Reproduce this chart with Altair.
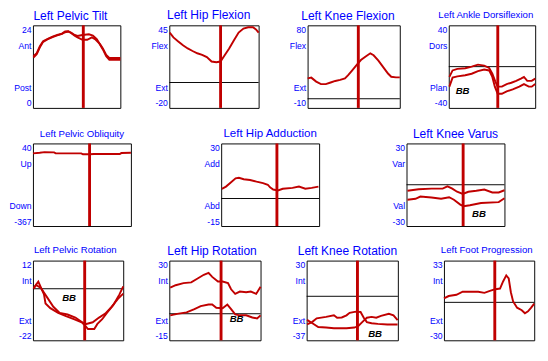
import altair as alt
import pandas as pd

RED = "#C00000"
BLUE = "#0000FF"
FONT = "Liberation Sans"

# ---------------- panel definitions ----------------
titles = ["Left Pelvic Tilt", "Left Hip Flexion", "Left Knee Flexion", "Left Ankle Dorsiflexion",
          "Left Pelvic Obliquity", "Left Hip Adduction", "Left Knee Varus",
          "Left Pelvic Rotation", "Left Hip Rotation", "Left Knee Rotation", "Left Foot Progression"]
y_min = [0, -20, -10, -40, -367, -15, -30, -22, -15, -37, -30]
y_max = [24, 45, 80, 40, 40, 30, 30, 12, 30, 30, 33]
low_labels = ["Post", "Ext", "Ext", "Plan", "Down", "Abd", "Val", "Ext", "Ext", "Ext", "Ext"]
high_labels = ["Ant", "Flex", "Flex", "Dors", "Up", "Add", "Var", "Int", "Int", "Int", "Int"]
toe_off = [57.6, 57.4, 55.0, 56.7, 57.8, 56.9, 57.8, 57.3, 56.7, 55.7, 56.3]
show_zero = [False, True, True, True, False, True, True, True, True, True, True]

# ---------------- curves (% gait cycle, degrees) ----------------
tilt_a_pct = [0.5, 4.3, 7.9, 11.6, 17, 22.4, 27.8, 33.2, 36.8, 40.4, 44, 47.7, 51, 56.7, 64, 68.6, 73, 76.5, 80, 83.8, 87.4, 100]
tilt_a_val = [15.0, 15.9, 17.9, 19.4, 20.1, 20.7, 21.2, 21.6, 22.2, 22.3, 21.8, 21.2, 20.9, 21.2, 21.4, 21.0, 20.0, 18.6, 17.3, 15.4, 14.5, 14.5]
tilt_b_pct = [0.5, 4.3, 7.9, 11.6, 17, 22.4, 27.8, 33.2, 36.8, 40.4, 44, 47.7, 51, 56.7, 62, 67.5, 71, 75.8, 80, 83.8, 87.4, 100]
tilt_b_val = [14.6, 15.6, 17.6, 19.2, 20.0, 20.6, 21.1, 21.5, 22.0, 22.2, 21.7, 21.0, 20.5, 19.8, 19.8, 20.5, 20.0, 18.8, 17.0, 15.0, 14.0, 14.0]

hipflex_pct = [0.4, 4.6, 10, 15.3, 20.6, 26, 31.3, 36.7, 42, 47.3, 52.7, 57.3, 61.6, 67, 72.2, 77.6, 83, 88.3, 93.6, 97, 100]
hipflex_val = [39.3, 35.5, 32.3, 29.3, 26.8, 24.8, 23, 21.8, 20, 16.5, 16, 16.5, 21, 26.8, 33, 39.3, 42.5, 43.5, 43.5, 41.8, 39.3]

kneeflex_pct = [0, 4, 9.3, 14.5, 19.7, 25, 30, 35.3, 40.5, 44, 48.4, 52.6, 57.8, 63, 68, 71.6, 76.8, 82, 87.2, 90.7, 95.8, 100]
kneeflex_val = [22.2, 23, 18.7, 15.9, 15.9, 17.7, 19.4, 20.5, 22.2, 25.7, 31, 36.2, 42.2, 46, 49.5, 47.4, 41.5, 34.5, 27.5, 24, 23.3, 23.3]

ankle_a_pct = [0.7, 4.4, 10, 19, 26.5, 33.8, 41, 46.7, 50.4, 54, 56.6, 61.4, 67, 72.4, 78, 83.5, 87, 90.8, 96, 100]
ankle_a_val = [-10, -3.7, -2.2, -1.5, 0, 1.9, 1, -1.2, -6.9, -14.7, -19.4, -19.4, -16.9, -15.6, -13.8, -11.6, -10, -13.8, -13.8, -11.6]
ankle_b_pct = [0.7, 4.4, 10, 19, 26.5, 33.8, 41, 46.7, 50.4, 53.3, 56.6, 61.4, 67, 74, 81.6, 87, 92.6, 96, 100]
ankle_b_val = [-19.4, -10.6, -9.4, -8.4, -6.9, -4.4, -2.8, -3.7, -10, -19.4, -26.3, -26.3, -24, -22, -19.4, -16.9, -19.4, -19.4, -16.9]

obliq_pct = [0, 6.9, 11.8, 21.6, 23.2, 49.3, 51, 57.5, 62.4, 88.6, 90.2, 100]
obliq_val = [-8.8, -5.7, -2.7, -4.0, -8.8, -8.8, -13.4, -13.4, -11.8, -11.8, -7.3, -5.7]

hipadd_pct = [0.7, 4.9, 9.8, 14.7, 18.1, 23, 29.5, 36.1, 42.7, 47.6, 49.9, 53.1, 58, 62.9, 72.8, 79.4, 85.9, 92.4, 99.3]
hipadd_val = [5.3, 6.5, 8.7, 11.0, 11.3, 10.5, 10.1, 9.2, 8.4, 7.5, 6.1, 4.9, 4.4, 5.3, 5.8, 6.5, 5.3, 5.8, 6.5]

varus_a_pct = [1, 12.4, 25.5, 36.9, 41.8, 46.7, 51.6, 57.5, 63.1, 71.2, 79.4, 87.6, 94.1, 100]
varus_a_val = [-4.4, -3.3, -2.8, -2.8, -1.2, -2.8, -5.1, -6.7, -5.1, -4.4, -3.5, -5.6, -5.6, -4.0]
varus_b_pct = [1, 9.2, 14.1, 25.5, 35.3, 43.5, 48.4, 54.9, 58.2, 64.7, 76.1, 94.1, 100]
varus_b_val = [-10.9, -10.2, -8.6, -9.3, -10.2, -9.1, -10.9, -14.4, -15.6, -14.9, -13.3, -12.6, -9.8]

pelrot_a_pct = [0.7, 5.9, 12.2, 13.9, 19.2, 27.9, 36.6, 45.3, 54, 57.5, 61, 67.9, 71.4, 76.7, 81.9, 88.9, 95.8, 100]
pelrot_a_val = [0.3, 3.0, -2.4, -6.3, -8.3, -10.3, -11.7, -13.0, -14.3, -15.6, -17.2, -17.2, -15.0, -13.0, -10.3, -7.0, -2.4, 1.0]
pelrot_b_pct = [0.7, 3.5, 8.7, 15.7, 22.6, 29.6, 38.3, 47, 55.7, 59.2, 66.2, 73.2, 80.1, 87.1, 94.1, 100]
pelrot_b_val = [0.0, 1.6, 0.3, -3.7, -7.7, -10.3, -11.0, -12.3, -14.6, -15.0, -14.3, -12.3, -10.6, -7.7, -4.3, -2.1]

hiprot_a_pct = [1, 6.9, 15.5, 24, 31, 37.8, 43, 47, 53.3, 58.4, 64.3, 67.7, 72.2, 77.3, 84.2, 89.3, 95.2, 100]
hiprot_a_val = [14.7, 16.1, 17.3, 17.7, 19.9, 22.0, 23.1, 20.8, 18.2, 18.2, 17.3, 13.8, 11.2, 12.5, 12.1, 12.5, 11.2, 15.2]
hiprot_b_pct = [1, 8.6, 18.9, 27.5, 34.4, 43, 47, 51.5, 58.4, 63.6, 67.7, 72.2, 77.3, 84.2, 91, 96.2, 100]
hiprot_b_val = [-0.9, -0.05, 0.8, 2.6, 4.3, 5.2, 5.2, 3.4, 3.1, 5.2, 2.6, -0.4, -0.9, -0.9, -2.1, -2.7, -0.9]

kneerot_a_pct = [0.4, 5.9, 11, 21.3, 29.9, 33.4, 38.5, 43.7, 47.1, 54, 59.1, 62.6, 66, 71.2, 78, 88.4, 99.7]
kneerot_a_val = [-23.7, -21.7, -18.5, -17.3, -16.0, -18.0, -17.8, -16.0, -13.9, -12.9, -13.2, -18.0, -21.7, -22.7, -23.2, -23.7, -23.7]
kneerot_b_pct = [0.4, 5.9, 12.7, 21.3, 29.9, 43.7, 52.3, 56.7, 60.9, 66, 71.2, 76.3, 81.5, 90.1, 95.2, 99.7]
kneerot_b_val = [-19.8, -22.4, -25.8, -26.3, -26.8, -26.8, -26.3, -25.0, -21.7, -18.0, -17.3, -18.0, -16.5, -14.7, -16.0, -20.0]

foot_pct = [0, 5.2, 13.8, 20.7, 27.6, 37.9, 44.8, 51.7, 56.9, 62.1, 65.5, 69, 71.7, 74.1, 76.6, 81, 86.2, 89.7, 93.1, 96.6, 100]
foot_val = [3.1, 5.0, 6.0, 8.4, 8.4, 8.4, 7.5, 9.2, 10.4, 10.9, 16.5, 21.3, 18.9, 8.0, 0.7, -4.2, -6.2, -8.6, -7.1, -4.2, -1.0]

curves = [
    [(tilt_a_pct, tilt_a_val), (tilt_b_pct, tilt_b_val)],
    [(hipflex_pct, hipflex_val)],
    [(kneeflex_pct, kneeflex_val)],
    [(ankle_a_pct, ankle_a_val), (ankle_b_pct, ankle_b_val)],
    [(obliq_pct, obliq_val)],
    [(hipadd_pct, hipadd_val)],
    [(varus_a_pct, varus_a_val), (varus_b_pct, varus_b_val)],
    [(pelrot_a_pct, pelrot_a_val), (pelrot_b_pct, pelrot_b_val)],
    [(hiprot_a_pct, hiprot_a_val), (hiprot_b_pct, hiprot_b_val)],
    [(kneerot_a_pct, kneerot_a_val), (kneerot_b_pct, kneerot_b_val)],
    [(foot_pct, foot_val)],
]

# "BB" markers
bb_panel = [3, 6, 7, 8, 9]
bb_pct = [16, 74, 40, 73.7, 75]
bb_val = [-23.5, -21.3, -4.2, -3.0, -31.4]

# ---------------- layout (styling only) ----------------
widths = [91, 93, 96, 90, 102, 102, 102, 94, 95, 95, 94]
heights = [86, 86, 86, 86, 86, 86, 86, 83, 83, 83, 83]
title_size = [12.5, 12.5, 12.5, 10, 10, 12, 12.5, 10, 12.5, 12.5, 10]
title_off = [1.8, 1.8, 1.8, 4.3, 3.5, 2, 2, 4, 1.5, 1.5, 4]
title_dx = [-6.5, -5.5, -6, -6.5, 0, 0, 0, -3, -3, -5, -2.5]
min_ext = [20, 22, 22, 22, 25, 20, 18, 15, 18, 18, 18]
row_spacing = [23, 68, 24]


def panel(i):
    lo, hi = y_min[i], y_max[i]
    r = hi - lo
    ticks = [lo, lo + 0.25 * r, lo + 0.75 * r, hi]
    expr = (f"datum.value < {lo + 0.125 * r} ? '{lo}' : "
            f"datum.value < {lo + 0.5 * r} ? '{low_labels[i]}' : "
            f"datum.value < {lo + 0.875 * r} ? '{high_labels[i]}' : '{hi}'")
    ysc = alt.Scale(domain=[lo, hi], nice=False, zero=False)
    xsc = alt.Scale(domain=[0, 100], nice=False, zero=False)
    yax = alt.Axis(values=ticks, labelExpr=expr, ticks=False, domain=False, grid=False,
                   title=None, labelColor=BLUE, labelFont=FONT, labelFontSize=9,
                   labelPadding=2, labelFlush=True, labelOverlap=False,
                   minExtent=min_ext[i], maxExtent=min_ext[i])
    rows = []
    for k, (p, v) in enumerate(curves[i]):
        for a, b in zip(p, v):
            rows.append({"pct": a, "val": b, "s": k})
    df = pd.DataFrame(rows)
    layers = []
    if show_zero[i]:
        layers.append(
            alt.Chart(pd.DataFrame({"val": [0]}))
            .mark_rule(color="black", strokeWidth=1)
            .encode(y=alt.Y("val:Q", scale=ysc, axis=yax))
        )
    layers.append(
        alt.Chart(df)
        .mark_line(color=RED, strokeWidth=2)
        .encode(x=alt.X("pct:Q", scale=xsc, axis=None),
                y=alt.Y("val:Q", scale=ysc, axis=yax),
                detail="s:N")
    )
    layers.append(
        alt.Chart(pd.DataFrame({"pct": [toe_off[i]]}))
        .mark_rule(color=RED, strokeWidth=3)
        .encode(x=alt.X("pct:Q", scale=xsc, axis=None))
    )
    if i in bb_panel:
        j = bb_panel.index(i)
        layers.append(
            alt.Chart(pd.DataFrame({"pct": [bb_pct[j]], "val": [bb_val[j]]}))
            .mark_text(text="BB", font=FONT, fontSize=10, fontWeight="bold",
                       fontStyle="italic", color="black")
            .encode(x=alt.X("pct:Q", scale=xsc, axis=None),
                    y=alt.Y("val:Q", scale=ysc, axis=yax))
        )
    return alt.layer(*layers).properties(
        width=widths[i], height=heights[i],
        title=alt.TitleParams(text=titles[i], fontSize=title_size[i], offset=title_off[i],
                              dx=title_dx[i], color=BLUE, font=FONT, fontWeight="normal",
                              anchor="middle", frame="group"),
    )


row1 = alt.hconcat(*[panel(i) for i in range(0, 4)], spacing=row_spacing[0])
row2 = alt.hconcat(*[panel(i) for i in range(4, 7)], spacing=row_spacing[1])
row3 = alt.hconcat(*[panel(i) for i in range(7, 11)], spacing=row_spacing[2])

chart = (
    alt.vconcat(row1, row2, row3, spacing=18)
    .properties(padding={"top": -6, "left": 0, "right": 0, "bottom": 0},
                background="white")
    .configure_view(stroke="black", strokeWidth=1)
)

chart.save("out.html", embed_options={"renderer": "svg", "actions": False})
